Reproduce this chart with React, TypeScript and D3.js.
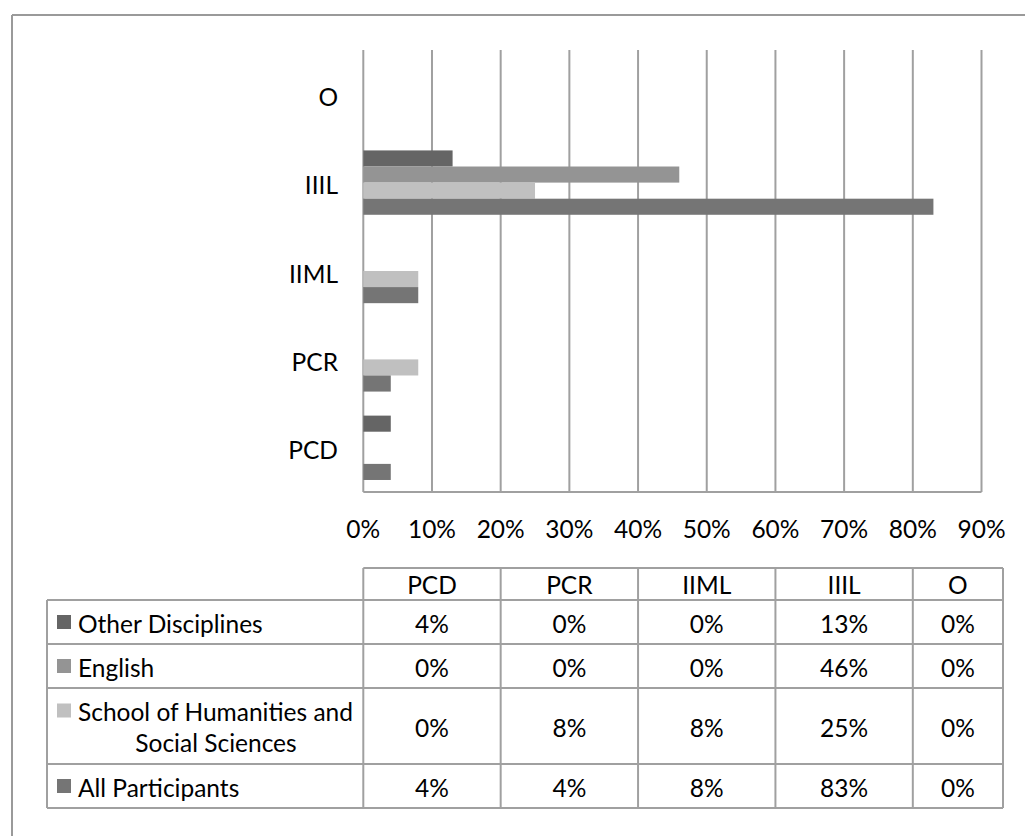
import React from "react";
import * as d3 from "d3";

const categories = ["PCD", "PCR", "IIML", "IIIL", "O"];
const seriesNames = [
  "Other Disciplines",
  "English",
  "School of Humanities and Social Sciences",
  "All Participants",
];
const seriesLines = [
  ["Other Disciplines"],
  ["English"],
  ["School of Humanities and", "Social Sciences"],
  ["All Participants"],
];
const otherDisciplines = [0.04, 0, 0, 0.13, 0];
const english = [0, 0, 0, 0.46, 0];
const schoolHSS = [0, 0.08, 0.08, 0.25, 0];
const allParticipants = [0.04, 0.04, 0.08, 0.83, 0];
const seriesValues = [otherDisciplines, english, schoolHSS, allParticipants];
const seriesColors = ["#656565", "#949494", "#c0c0c0", "#757575"];
const xTicks = [0, 0.1, 0.2, 0.3, 0.4, 0.5, 0.6, 0.7, 0.8, 0.9];

const FONT = "Lato, 'Open Sans', sans-serif";
const FS = 24.5;
const GRID = "#a0a0a0";

export default function App() {
  const W = 1025;
  const H = 836;
  const x = d3.scaleLinear().domain([0, 0.9]).range([363.3, 981.5]);
  const catOrder = [...categories].reverse(); // top to bottom
  const y = d3.scaleBand<string>().domain(catOrder).range([50, 492]).padding(0);
  const bw = y.bandwidth();
  const inner = d3
    .scaleBand<number>()
    .domain(seriesNames.map((_, i) => i))
    .range([bw * 0.136, bw * (1 - 0.136)])
    .padding(0);
  const fmt = d3.format(".0%");

  // table layout
  const colEdges = [x(0), x(0.2), x(0.4), x(0.6), x(0.8), 1003];
  const tableLeft = 47;
  const headerTop = 568;
  const rowHeights = [32, 44, 44, 76, 44];
  const rowTops: number[] = [];
  let acc = headerTop;
  rowHeights.forEach((h) => {
    rowTops.push(acc);
    acc += h;
  });
  const tableBottom = acc;

  return (
    <svg
      width={W}
      height={H}
      style={{ position: "absolute", left: 0, top: 0, background: "#fff" }}
      fontFamily={FONT}
    >
      <rect x={0} y={0} width={W} height={H} fill="#fff" />
      {/* outer frame (clipped) */}
      <line x1={12} y1={15} x2={W} y2={15} stroke="#9a9a9a" strokeWidth={2} />
      <line x1={12} y1={15} x2={12} y2={H} stroke="#9a9a9a" strokeWidth={2} />

      {/* gridlines */}
      {xTicks.map((t) => (
        <line key={t} x1={x(t)} x2={x(t)} y1={50} y2={492} stroke={GRID} strokeWidth={2} />
      ))}
      <line x1={x(0)} x2={x(0.9)} y1={492} y2={492} stroke={GRID} strokeWidth={2} />

      {/* bars */}
      {categories.map((c, ci) => (
        <g key={c} transform={`translate(0,${y(c)})`}>
          {seriesValues.map((vals, si) =>
            vals[ci] > 0 ? (
              <rect
                key={si}
                x={x(0)}
                y={inner(si)}
                width={x(vals[ci]) - x(0)}
                height={inner.bandwidth()}
                fill={seriesColors[si]}
              />
            ) : null
          )}
        </g>
      ))}

      {/* category labels */}
      {categories.map((c) => (
        <text
          key={c}
          x={338}
          y={(y(c) as number) + bw / 2 + 2}
          textAnchor="end"
          dominantBaseline="central"
          fontSize={FS}
          fill="#000"
        >
          {c}
        </text>
      ))}

      {/* x tick labels */}
      {xTicks.map((t) => (
        <text
          key={t}
          x={x(t)}
          y={528}
          textAnchor="middle"
          dominantBaseline="central"
          fontSize={FS}
          fill="#000"
        >
          {fmt(t)}
        </text>
      ))}

      {/* data table */}
      <g>
        <line x1={colEdges[0]} x2={colEdges[5]} y1={headerTop} y2={headerTop} stroke={GRID} strokeWidth={2} />
        {rowTops.slice(1).map((ry, i) => (
          <line key={i} x1={tableLeft} x2={colEdges[5]} y1={ry} y2={ry} stroke={GRID} strokeWidth={2} />
        ))}
        <line x1={tableLeft} x2={colEdges[5]} y1={tableBottom} y2={tableBottom} stroke={GRID} strokeWidth={2} />
        <line x1={tableLeft} x2={tableLeft} y1={rowTops[1]} y2={tableBottom} stroke={GRID} strokeWidth={2} />
        {colEdges.map((cx, i) => (
          <line key={i} x1={cx} x2={cx} y1={headerTop} y2={tableBottom} stroke={GRID} strokeWidth={2} />
        ))}
        {categories.map((c, ci) => (
          <text
            key={c}
            x={(colEdges[ci] + colEdges[ci + 1]) / 2}
            y={rowTops[0] + rowHeights[0] / 2}
            textAnchor="middle"
            dominantBaseline="central"
            fontSize={FS}
          >
            {c}
          </text>
        ))}
        {seriesNames.map((s, si) => {
          const top = rowTops[si + 1];
          const h = rowHeights[si + 1];
          const lines = seriesLines[si];
          const lineH = 31;
          const firstY = top + h / 2 - ((lines.length - 1) * lineH) / 2;
          return (
            <g key={s}>
              <rect x={57} y={firstY - 7} width={14} height={14} fill={seriesColors[si]} />
              {lines.map((ln, li) => (
                <text
                  key={li}
                  x={li === 0 ? 78 : 216}
                  y={firstY + li * lineH + 1}
                  textAnchor={li === 0 ? "start" : "middle"}
                  dominantBaseline="central"
                  fontSize={FS}
                >
                  {ln}
                </text>
              ))}
              {seriesValues[si].map((v, ci) => (
                <text
                  key={ci}
                  x={(colEdges[ci] + colEdges[ci + 1]) / 2}
                  y={top + h / 2 + 1}
                  textAnchor="middle"
                  dominantBaseline="central"
                  fontSize={FS}
                >
                  {fmt(v)}
                </text>
              ))}
            </g>
          );
        })}
      </g>
    </svg>
  );
}
